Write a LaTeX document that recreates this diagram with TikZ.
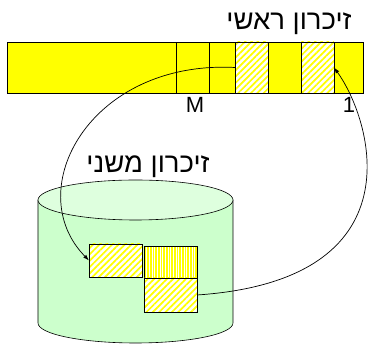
\documentclass[tikz,border=0pt]{standalone}
\usepackage{fontspec}
\setmainfont{Liberation Sans}
\newfontfamily\hebfont[Script=Hebrew]{Liberation Sans}
\TeXXeTstate=1
\usepackage{tikz}
\usetikzlibrary{arrows.meta,patterns.meta}
\definecolor{memyellow}{RGB}{255,255,0}
\definecolor{diskgreen}{RGB}{204,255,204}
\definecolor{disktop}{RGB}{222,255,222}

\begin{document}
\begin{tikzpicture}[x=1pt, y=-1pt,
  cell/.style={draw, line width=0.6pt, fill=memyellow, minimum width=33pt, minimum height=51pt, inner sep=0pt, outer sep=0pt},
  page/.style={cell, fill=none, preaction={fill=white}, pattern={Lines[angle=45,distance=4.5pt,line width=1.7pt]}, pattern color=memyellow},
  fine/.style={cell, fill=none, preaction={fill=white}, pattern={Lines[angle=90,distance=1.6pt,line width=1pt]}, pattern color=memyellow},
  lbl/.style={font=\fontsize{22}{26}\selectfont, inner sep=0pt, anchor=base},
  heb/.style={lbl, font=\hebfont\fontsize{27.5}{32}\selectfont},
  link/.style={-{Latex[length=6pt, width=4pt]}, line width=0.7pt}
]
\useasboundingbox (0,0) rectangle (368,344);

% main memory
\node[cell, minimum width=356pt] (bar) at (185,67.5) {};
\node[cell] (cellM) at (192.5,67.5) {};
\node[page] (pgA) at (251.5,67.5) {};
\node[page] (pgB) at (317.5,67.5) {};
\node[heb] (mainlbl) at (289,30) {\beginR זיכרון ראשי\endR};
\node[lbl] (lblM) at (195,113) {M};
\node[lbl] (lblOne) at (349,113) {1};

% disk
\draw[line width=0.6pt, fill=diskgreen] (38,200) -- (38,323)
  arc[start angle=180, end angle=0, x radius=97.5, y radius=20] -- (233,200) -- cycle;
\draw[line width=0.6pt, fill=disktop] (135.5,200) ellipse[x radius=97.5, y radius=20];
\node[heb] (disklbl) at (148,173) {\beginR זיכרון משני\endR};

\node[page, minimum width=53pt, minimum height=33pt] (blkA) at (115.5,260.5) {};
\node[fine, minimum width=53pt, minimum height=32pt] (blkB) at (170.5,262) {};
\node[page, minimum width=53pt, minimum height=34pt] (blkC) at (170.5,295) {};

% swapping
\draw[link] (pgA.west) .. controls (90,60) and (20,190) .. (blkA.west);
\draw[link] (blkC.east) .. controls (420,280) and (372,120) .. (pgB.east);

\end{tikzpicture}
\end{document}
